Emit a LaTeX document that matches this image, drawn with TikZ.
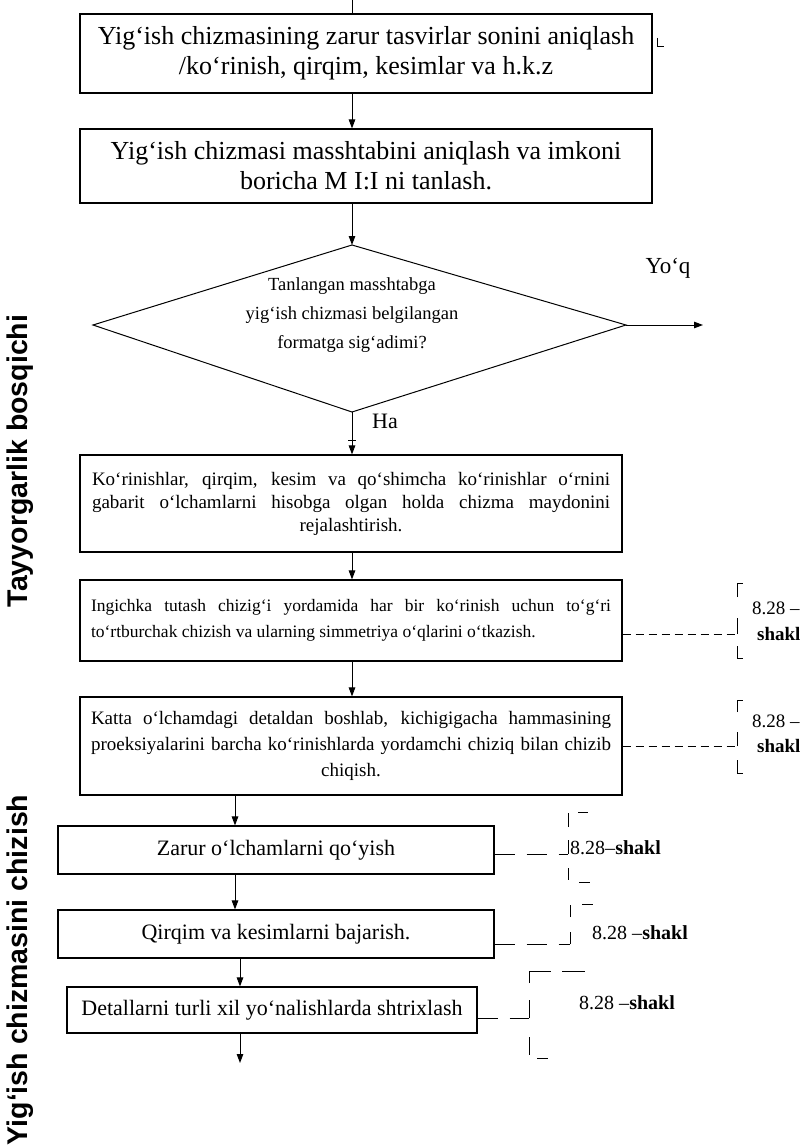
\documentclass[tikz,border=0pt]{standalone}
\usepackage{fontspec}
\setmainfont{Liberation Serif}
\newfontfamily\stagefont{Liberation Sans}
\usetikzlibrary{arrows.meta}

% one justified line of a given width (word spaces may stretch)
\newcommand{\jline}[2]{\leavevmode\hbox to #1{\spaceskip=0pt\xspaceskip=0pt #2}}

\tikzset{
  box/.style={draw, line width=1.1pt, inner sep=0pt, align=center},
  flow/.style={line width=1pt, -{Triangle[length=9pt,width=6.5pt]}},
  plain/.style={line width=1pt},
  shortdash/.style={line width=1pt, dash pattern=on 8pt off 5pt},
  longdash/.style={line width=1pt, dash pattern=on 20pt off 12pt},
  ann/.style={inner sep=0pt, anchor=west, font=\fontsize{20}{22}\selectfont},
  annsmall/.style={inner sep=0pt, anchor=west, font=\fontsize{19}{21}\selectfont},
  stage/.style={inner sep=0pt, rotate=90, font=\stagefont\bfseries\fontsize{28.5}{31}\selectfont},
  bigtext/.style={font=\fontsize{26}{30}\selectfont},
  smalltext/.style={font=\fontsize{22}{24}\selectfont}
}

\begin{document}
\begin{tikzpicture}[x=1pt,y=-1pt]
\useasboundingbox (0,0) rectangle (801,1148);

% arrow columns
\coordinate (colA) at (352,0);
\coordinate (colB) at (235,0);
\coordinate (colC) at (240,0);

% ---- preparation stage ----
\node[box, bigtext, minimum width=572pt, minimum height=79pt] (b1) at (366,53.5)
  {Yig‘ish chizmasining zarur tasvirlar sonini aniqlash\\
   /ko`rinish, qirqim, kesimlar va h.k.z};

\node[box, bigtext, minimum width=572pt, minimum height=74pt] (b2) at (366,166)
  {Yig‘ish chizmasi masshtabini aniqlash va imkoni\\
   boricha M I:I ni tanlash.};

% decision
\coordinate (dT) at (352,245);
\coordinate (dL) at (93,325);
\coordinate (dR) at (626,325);
\coordinate (dB) at (352,412);
\draw[plain] (dT) -- (dR) -- (dB) -- (dL) -- cycle;
\node[inner sep=0pt, align=center, font=\fontsize{18.5}{29}\selectfont] (dtext) at (352,315)
  {Tanlangan masshtabga\\ yig‘ish chizmasi belgilangan\\ formatga sig‘adimi?};
\coordinate (noEnd) at (703,325);
\node[inner sep=0pt, font=\fontsize{23}{25}\selectfont] (no) at (668,268) {Yo‘q};
\node[inner sep=0pt, anchor=west, font=\fontsize{22}{24}\selectfont] (yes) at (372,421) {Ha};

\node[box, font=\fontsize{19}{23}\selectfont, text width=518pt, minimum width=542pt, minimum height=97pt] (b3) at (351,503.5)
  {\jline{518pt}{Ko`rinishlar, qirqim, kesim va qo‘shimcha ko`rinishlar o‘rnini}\\
   \jline{518pt}{gabarit o`lchamlarni hisobga olgan holda chizma maydonini}\\
   rejalashtirish.};

\node[box, font=\fontsize{17.5}{26}\selectfont, text width=520pt, minimum width=542pt, minimum height=81pt] (b4) at (351,620.5)
  {\jline{520pt}{Ingichka tutash chizig‘i yordamida har bir ko‘rinish uchun to‘g‘ri}\\
   \jline{520pt}{to‘rtburchak chizish va ularning simmetriya o‘qlarini o‘tkazish.\hfil}};

\node[box, font=\fontsize{19}{26}\selectfont, text width=520pt, minimum width=542pt, minimum height=98pt] (b5) at (351,746)
  {\jline{520pt}{Katta o‘lchamdagi detaldan boshlab, kichigigacha hammasining}\\
   \jline{520pt}{proeksiyalarini barcha ko‘rinishlarda yordamchi chiziq bilan chizib}\\
   chiqish.};

% ---- drawing stage ----
\node[box, smalltext, minimum width=436pt, minimum height=48pt] (b6) at (276,850)
  {Zarur o‘lchamlarni qo‘yish};
\node[box, smalltext, minimum width=436pt, minimum height=48pt] (b7) at (276,934)
  {Qirqim va kesimlarni bajarish.};
\node[box, smalltext, minimum width=410pt, minimum height=46pt] (b8) at (272,1010)
  {Detallarni turli xil yo`nalishlarda shtrixlash};
\coordinate (endB8) at (240,1063);

% flow arrows
\draw[plain] (colA) -- (b1.north -| colA);
\draw[flow] (b1.south -| colA) -- (b2.north -| colA);
\draw[flow] (b2.south -| colA) -- (dT);
\draw[flow] (dR) -- (noEnd);
\draw[flow] (dB) -- (b3.north -| colA);
\draw[flow] (b3.south -| colA) -- (b4.north -| colA);
\draw[flow] (b4.south -| colA) -- (b5.north -| colA);
\draw[flow] (b5.south -| colB) -- (b6.north -| colB);
\draw[flow] (b6.south -| colB) -- (b7.north -| colB);
\draw[flow] (b7.south -| colC) -- (b8.north -| colC);
\draw[flow] (b8.south -| colC) -- (endB8);

% small marks
\coordinate (tickHa) at (352,440);
\draw[plain] ([xshift=-4pt]tickHa) -- ([xshift=4pt]tickHa);
\coordinate (m1) at (657,38);
\draw[plain] (m1) -- ++(0,9) -- ++(7,0);

% ---- figure references ----
% box 4
\coordinate (k4) at (737,634);
\draw[shortdash] (b4.east |- k4) -- (k4);
\draw[plain] (k4) -- ++(0,-16);
\draw[plain] (737,597) -- (737,583) -- (743,583);
\draw[plain] (737,646) -- (737,658) -- (743,658);
\node[annsmall] (r4a) at (752,608) {8.28 –};
\node[annsmall, font=\fontsize{19}{21}\selectfont\bfseries] (r4b) at (757,634) {shakl};

% box 5
\coordinate (k5) at (737,746);
\draw[shortdash] (b5.east |- k5) -- (k5);
\draw[plain] (k5) -- ++(0,-14);
\draw[plain] (737,712) -- (737,700) -- (743,700);
\draw[plain] (737,760) -- (737,773) -- (743,773);
\node[annsmall] (r5a) at (752,721) {8.28 –};
\node[annsmall, font=\fontsize{19}{21}\selectfont\bfseries] (r5b) at (757,746) {shakl};

% box 6
\coordinate (k6) at (568,854);
\draw[longdash] (b6.east |- k6) -- (k6);
\draw[plain] (k6) -- ++(0,-14);
\draw[plain] (568,827) -- (568,813);
\draw[plain] (578,812) -- (588,812);
\draw[plain] (568,868) -- (568,880);
\draw[plain] (579,882) -- (590,882);
\node[ann] (r6) at (570,848) {8.28–\textbf{shakl}};

% box 7
\coordinate (k7) at (570,944);
\draw[longdash] (b7.east |- k7) -- (k7);
\draw[plain] (k7) -- ++(0,-12);
\draw[plain] (570,917) -- (570,905);
\draw[plain] (582,904) -- (593,904);
\node[ann] (r7) at (592,933) {8.28 –\textbf{shakl}};

% box 8
\coordinate (k8) at (529,1018);
\draw[longdash] (b8.east |- k8) -- (k8);
\draw[plain] (k8) -- ++(0,-18);
\draw[plain] (529,983) -- (529,971) -- (551,971);
\draw[plain] (562,971) -- (585,971);
\draw[plain] (529,1037) -- (529,1055);
\draw[plain] (537,1058) -- (548,1058);
\node[ann] (r8) at (579,1003) {8.28 –\textbf{shakl}};

% ---- stage labels ----
\node[stage] (s1) at (20,461) {Tayyorgarlik bosqichi};
\node[stage] (s2) at (20,970) {Yig‘ish chizmasini chizish};
\end{tikzpicture}
\end{document}
